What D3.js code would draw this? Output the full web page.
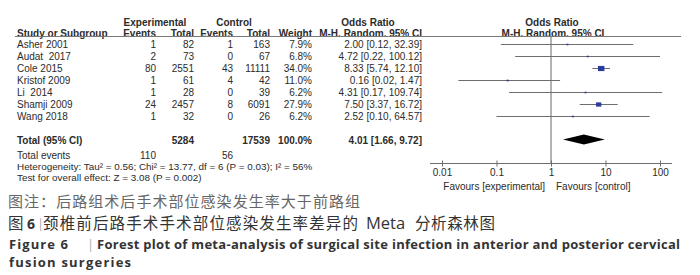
<!DOCTYPE html>
<html>
<head>
<meta charset="utf-8">
<script src="https://cdn.jsdelivr.net/npm/d3@7"></script>
<style>
  body { margin: 0; background: #fff; }
  svg text { white-space: pre; }
</style>
</head>
<body>
<div id="chart"></div>
<script>
// forest plot data
const studies = ["Asher 2001", "Audat  2017", "Cole 2015", "Kristof 2009", "Li  2014", "Shamji 2009", "Wang 2018"];
const expEvents = [1, 2, 80, 1, 1, 24, 1];
const expTotal = [82, 73, 2551, 61, 28, 2457, 32];
const ctrlEvents = [1, 0, 43, 4, 0, 8, 0];
const ctrlTotal = [163, 67, 11111, 42, 39, 6091, 26];
const weights = [7.9, 6.8, 34.0, 11.0, 6.2, 27.9, 6.2];
const oddsRatio = [2.00, 4.72, 8.33, 0.16, 4.31, 7.50, 2.52];
const ciLow = [0.12, 0.22, 5.74, 0.02, 0.17, 3.37, 0.10];
const ciHigh = [32.39, 100.12, 12.10, 1.47, 109.74, 16.72, 64.57];
const pooled = [4.01, 1.66, 9.72]; // OR, low, high
const totals = [5284, 17539, 110, 56];
const tickValues = [0.01, 0.1, 1, 10, 100];
const tickLabels = ["0.01", "0.1", "1", "10", "100"];

const W = 700, H = 275;
const svg = d3.select("#chart").append("svg")
    .attr("width", W).attr("height", H)
    .style("font-family", "'Liberation Sans', Arial, sans-serif");

const x = d3.scaleLog().domain([0.01, 100]).range([442, 660]);
const y = d3.scalePoint().domain(studies).range([44.5, 116.5]);
const yTotal = 140, yAxis = 163.5, yHeader = 36.5;

const txt = "#2b2b2b";
const fs = 10;

// columns: right edges
const cols = [
    { label: "Events", right: 156, vals: expEvents },
    { label: "Total", right: 194, vals: expTotal },
    { label: "Events", right: 233, vals: ctrlEvents },
    { label: "Total", right: 270, vals: ctrlTotal },
    { label: "Weight", right: 312, vals: weights.map(w => w.toFixed(1) + "%") },
    { label: "M-H. Random. 95% CI", right: 422,
      vals: oddsRatio.map((o, i) => o.toFixed(2) + " [" + ciLow[i].toFixed(2) + ", " + ciHigh[i].toFixed(2) + "]") }
];

// header
const hdr = svg.append("g").attr("font-weight", "bold").attr("font-size", fs).attr("fill", txt);
hdr.append("text").attr("x", 155).attr("y", 22).attr("dy", "0.35em").attr("text-anchor", "middle").text("Experimental");
hdr.append("text").attr("x", 234).attr("y", 22).attr("dy", "0.35em").attr("text-anchor", "middle").text("Control");
hdr.append("text").attr("x", 368).attr("y", 22).attr("dy", "0.35em").attr("text-anchor", "middle").text("Odds Ratio");
hdr.append("text").attr("x", 552).attr("y", 22).attr("dy", "0.35em").attr("text-anchor", "middle").text("Odds Ratio");
hdr.append("text").attr("x", 17).attr("y", 33).attr("dy", "0.35em").text("Study or Subgroup");
cols.forEach(c => {
    hdr.append("text").attr("x", c.right).attr("y", 33).attr("dy", "0.35em")
        .attr("text-anchor", "end").text(c.label);
});
hdr.append("text").attr("x", 553).attr("y", 33).attr("dy", "0.35em").attr("text-anchor", "middle").text("M-H. Random. 95% CI");

svg.append("line").attr("x1", 15).attr("x2", 681).attr("y1", yHeader).attr("y2", yHeader)
    .attr("stroke", "#7a7a7a").attr("stroke-width", 1.2);

// rows
const rows = svg.append("g").attr("font-size", fs).attr("fill", txt);
studies.forEach((s, i) => {
    rows.append("text").attr("x", 17).attr("y", y(s)).attr("dy", "0.35em").text(s);
    cols.forEach(c => {
        rows.append("text").attr("x", c.right).attr("y", y(s)).attr("dy", "0.35em")
            .attr("text-anchor", "end").text(c.vals[i]);
    });
});

// totals
const tg = svg.append("g").attr("font-size", fs).attr("fill", txt);
tg.append("text").attr("x", 17).attr("y", yTotal).attr("dy", "0.35em").attr("font-weight", "bold").text("Total (95% CI)");
tg.append("text").attr("x", 194).attr("y", yTotal).attr("dy", "0.35em").attr("text-anchor", "end").attr("font-weight", "bold").text(totals[0]);
tg.append("text").attr("x", 270).attr("y", yTotal).attr("dy", "0.35em").attr("text-anchor", "end").attr("font-weight", "bold").text(totals[1]);
tg.append("text").attr("x", 312).attr("y", yTotal).attr("dy", "0.35em").attr("text-anchor", "end").attr("font-weight", "bold").text("100.0%");
tg.append("text").attr("x", 422).attr("y", yTotal).attr("dy", "0.35em").attr("text-anchor", "end").attr("font-weight", "bold")
    .text(pooled[0].toFixed(2) + " [" + pooled[1].toFixed(2) + ", " + pooled[2].toFixed(2) + "]");
tg.append("text").attr("x", 17).attr("y", 155).attr("dy", "0.35em").text("Total events");
tg.append("text").attr("x", 156).attr("y", 155).attr("dy", "0.35em").attr("text-anchor", "end").text(totals[2]);
tg.append("text").attr("x", 233).attr("y", 155).attr("dy", "0.35em").attr("text-anchor", "end").text(totals[3]);
tg.append("text").attr("x", 17).attr("y", 166.5).attr("dy", "0.35em").attr("font-size", 9.9)
    .text("Heterogeneity: Tau\u00b2 = 0.56; Chi\u00b2 = 13.77, df = 6 (P = 0.03); I\u00b2 = 56%");
tg.append("text").attr("x", 17).attr("y", 177.5).attr("dy", "0.35em").attr("font-size", 9.9)
    .text("Test for overall effect: Z = 3.08 (P = 0.002)");

// vertical line at OR = 1
svg.append("line").attr("x1", x(1)).attr("x2", x(1)).attr("y1", yHeader).attr("y2", yAxis)
    .attr("stroke", "#808080").attr("stroke-width", 1.2);

// CI lines and squares
const marks = svg.append("g");
studies.forEach((s, i) => {
    marks.append("line").attr("x1", x(ciLow[i])).attr("x2", x(ciHigh[i]))
        .attr("y1", y(s)).attr("y2", y(s)).attr("stroke", "#6e6e6e").attr("stroke-width", 1);
    const sz = Math.max(2, weights[i] * 0.19);
    marks.append("rect").attr("x", x(oddsRatio[i]) - sz / 2).attr("y", y(s) - sz * 0.4)
        .attr("width", sz).attr("height", sz * 0.8).attr("fill", "#2b3c9c");
});

// pooled diamond
svg.append("path")
    .attr("d", d3.line()([
        [x(pooled[1]), yTotal - 0.5], [x(pooled[0]), yTotal - 5.5],
        [x(pooled[2]), yTotal - 0.5], [x(pooled[0]), yTotal + 4.5]
    ]) + "Z")
    .attr("fill", "#000");

// axis
const axis = svg.append("g").attr("transform", `translate(0,${yAxis})`)
    .call(d3.axisBottom(x).tickValues(tickValues)
        .tickFormat((d, i) => tickLabels[i]).tickSize(3).tickSizeOuter(0).tickPadding(2));
axis.select(".domain").remove();
axis.insert("line", ":first-child").attr("x1", x(0.01) - 12).attr("x2", x(100) + 12)
    .attr("stroke", "#6e6e6e").attr("stroke-width", 1.2);
axis.selectAll(".tick line").attr("y1", -3).attr("stroke", "#6e6e6e");
axis.selectAll(".tick text").attr("font-size", 10).attr("fill", txt)
    .attr("font-family", "'Liberation Sans', Arial, sans-serif");

svg.append("text").attr("x", 545).attr("y", 186).attr("dy", "0.35em").attr("text-anchor", "end")
    .attr("font-size", 10).attr("fill", txt).text("Favours [experimental]");
svg.append("text").attr("x", 556).attr("y", 186).attr("dy", "0.35em")
    .attr("font-size", 10).attr("fill", txt).text("Favours [control]");

// captions
const cjk = "'Noto Sans CJK SC', sans-serif";
const en = "'Open Sans', sans-serif";
svg.append("text").attr("x", 8).attr("y", 201.5).attr("dy", "0.36em").attr("font-family", cjk)
    .attr("font-size", 15).attr("fill", "#666")
    .attr("textLength", 352).attr("lengthAdjust", "spacing")
    .text("图注：后路组术后手术部位感染发生率大于前路组");

const titleParts = [
    { x: 8, t: "图", f: cjk, w: "normal", s: 15.5, c: "#333" },
    { x: 27, t: "6", f: en, w: "bold", s: 14, c: "#333" },
    { x: 37, t: "|", f: en, w: "normal", s: 13, c: "#aaa" },
    { x: 43, t: "颈椎前后路手术手术部位感染发生率差异的", f: cjk, w: "normal", s: 15.5, c: "#333", len: 315 },
    { x: 366, t: "Meta", f: en, w: "normal", s: 16.5, c: "#333" },
    { x: 415, t: "分析森林图", f: cjk, w: "normal", s: 15.5, c: "#333", len: 80 }
];
titleParts.forEach(p => {
    const t = svg.append("text").attr("x", p.x).attr("y", 223.5).attr("dy", "0.36em")
        .attr("font-family", p.f).attr("font-weight", p.w).attr("font-size", p.s)
        .attr("fill", p.c).text(p.t);
    if (p.len) t.attr("textLength", p.len).attr("lengthAdjust", "spacing");
});

svg.append("text").attr("x", 9).attr("y", 244).attr("dy", "0.36em").attr("font-family", en)
    .attr("font-weight", "bold").attr("font-size", 13).attr("fill", "#333")
    .attr("textLength", 59).attr("lengthAdjust", "spacing").text("Figure 6");
svg.append("text").attr("x", 87).attr("y", 244).attr("dy", "0.36em").attr("font-family", en)
    .attr("font-size", 13).attr("fill", "#aaa").text("|");
svg.append("text").attr("x", 97).attr("y", 244).attr("dy", "0.36em").attr("font-family", en)
    .attr("font-weight", "bold").attr("font-size", 13).attr("fill", "#333")
    .attr("textLength", 583).attr("lengthAdjust", "spacing")
    .text("Forest plot of meta-analysis of surgical site infection in anterior and posterior cervical");
svg.append("text").attr("x", 9).attr("y", 262).attr("dy", "0.36em").attr("font-family", en)
    .attr("font-weight", "bold").attr("font-size", 13).attr("fill", "#333")
    .attr("textLength", 122).attr("lengthAdjust", "spacing").text("fusion surgeries");
</script>
</body>
</html>
